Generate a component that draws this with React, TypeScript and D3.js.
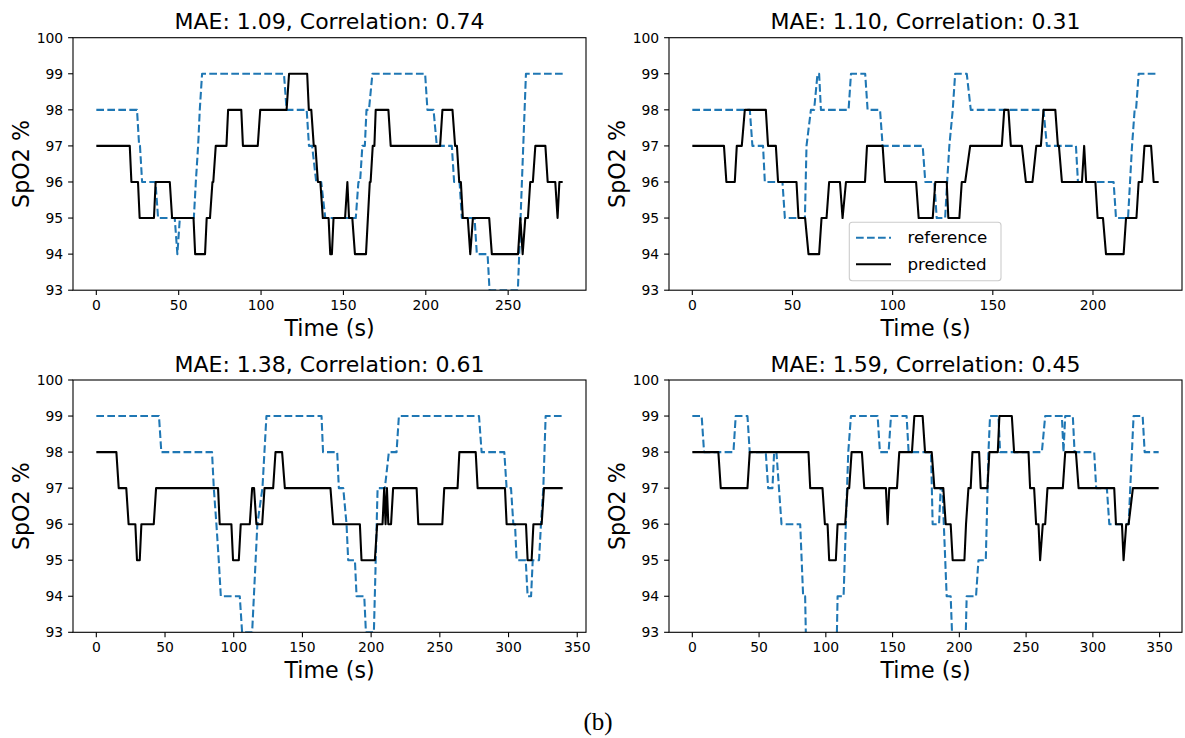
import React from 'react';
import * as d3 from 'd3';

type Pt = [number, number];

// ---- data: [time (s), SpO2 %] vertices ----
const p1Ref: Pt[] = [[0,98],[24.7,98],[26,97],[26.5,97],[27.8,96],[35.9,96],[37.5,95],[47.6,95],[49.2,94],[50.7,95],[59.2,95],[60.4,96],[61.8,97],[62.8,98],[64.2,99],[113.9,99],[115.5,98],[127.7,98],[129.1,97],[131,97],[133.5,96],[136.5,96],[139,95],[157.5,95],[159.1,96],[160.1,96],[161.5,97],[163,97],[164,98],[165.5,98],[167.6,99],[199.6,99],[201,98],[204.7,98],[206.7,97],[215.8,97],[217.2,96],[220.5,96],[221.9,95],[229.6,95],[231,94],[237.5,94],[238.7,93],[255.9,93],[260.8,99],[283.1,99]];
const p1Pred: Pt[] = [[0,97],[20.3,97],[21.3,96],[25.3,96],[26.3,95],[35,95],[36,96],[44.6,96],[46,95],[59,95],[60,94],[66,94],[67,95],[69,95],[70.5,96],[71,96],[72.5,97],[79,97],[80,98],[88,98],[89,97],[98,97],[99.5,98],[115.5,98],[117,99],[128,99],[129,98],[130.5,98],[132,97],[133,97],[134.5,96],[136,96],[137.5,95],[141,95],[142,94],[143,94],[144,95],[151,95],[152.4,96],[153.4,95],[155.4,95],[157,94],[163.7,94],[166,96],[166.5,96],[167.8,97],[168.8,97],[169.6,98],[177.3,98],[178.7,97],[208.7,97],[210.1,98],[216.2,98],[217.8,97],[218.9,97],[220.3,96],[221.3,96],[222.5,95],[225.5,95],[227,94],[228.6,95],[238.5,95],[240.1,94],[256,94],[257.4,95],[258.8,94],[260.4,95],[262,95],[263.4,96],[265,96],[266.5,97],[272.6,97],[274,96],[278.6,96],[280,95],[281.1,96],[283.1,96]];

const p2Ref: Pt[] = [[0,98],[28.7,98],[30,97],[35.3,97],[36.2,96],[45,96],[46.2,95],[56.2,95],[57,97],[59.2,98],[60.8,98],[62.5,99],[63.3,99],[64.2,98],[78,98],[79.2,99],[86.3,99],[87.5,98],[93.7,98],[95,97],[115,97],[116.3,96],[120.8,96],[122,95],[126.2,95],[127.2,96],[128.3,97],[130,98],[131.2,99],[137,99],[139,98],[175.3,98],[177,97],[191.5,97],[192.5,96],[210.3,96],[211.5,95],[217.5,95],[218.5,96],[219.5,97],[220.8,98],[221.5,98],[222.8,99],[232.8,99]];
const p2Pred: Pt[] = [[0,97],[15.8,97],[17,96],[21.2,96],[22.2,97],[24.7,97],[26.2,98],[36.7,98],[37.8,97],[41.7,97],[42.8,96],[52,96],[53,95],[56.3,95],[58,94],[63.3,94],[64.5,95],[67,95],[68.3,96],[73.7,96],[75,95],[76.7,96],[86.2,96],[87.2,97],[95,97],[96.2,96],[111.7,96],[113,95],[120,95],[121.3,96],[127,96],[127.8,95],[133.3,95],[134.5,96],[136.2,96],[138.7,97],[154.5,97],[155.7,98],[157.8,98],[159,97],[164.5,97],[166.5,96],[169.8,96],[171.7,97],[174,97],[175.3,98],[181.2,98],[182.5,97],[183,97],[184.5,96],[194.5,96],[195.6,97],[196.6,96],[201.2,96],[202.3,95],[205,95],[206.5,94],[215.3,94],[216.5,95],[221.7,95],[222.8,96],[224.5,96],[225.7,97],[229,97],[230.3,96],[232.8,96]];

const p3Ref: Pt[] = [[0,99],[45.6,99],[47.3,98],[84.2,98],[85.5,97],[87.4,96],[89.1,95],[90.6,94],[104.4,94],[106.1,93],[113.4,93],[117.2,96],[120.9,97],[123.8,99],[163.9,99],[165,98],[175.3,98],[176.5,97],[179.7,97],[182.1,96],[183.3,95],[188.2,95],[189.4,94],[195,94],[196.2,93],[202,93],[204.7,97],[210,97],[212.9,98],[218.5,98],[220.2,99],[278.5,99],[280.4,98],[296.9,98],[298.6,97],[301.8,97],[303.5,96],[304.7,96],[305.9,95],[312.5,95],[313.9,94],[316.4,94],[317.6,95],[322.2,95],[323.6,96],[325.3,97],[327,99],[339.4,99]];
const p3Pred: Pt[] = [[0,98],[14.6,98],[16.3,97],[21.8,97],[23.5,96],[28.4,96],[29.6,95],[31.6,95],[32.8,96],[41.8,96],[43.5,97],[88.6,97],[89.8,96],[98.3,96],[99.5,95],[103.7,95],[105.1,96],[111.7,96],[113.4,97],[114.8,97],[116.5,96],[120.7,96],[122.4,97],[128.7,97],[130.4,98],[135.2,98],[137.2,97],[170.4,97],[172.4,96],[191.8,96],[193,95],[202.7,95],[204.4,96],[208.3,96],[209.5,97],[210.5,96],[211.5,97],[212.5,96],[214.5,96],[216,97],[233.1,97],[234.3,96],[251.8,96],[253.2,97],[262.9,97],[264.2,98],[276.1,98],[277.5,97],[297.4,97],[298.6,96],[312.7,96],[313.9,95],[316.8,95],[318.1,96],[324.1,96],[325.8,97],[339.4,97]];

const p4Ref: Pt[] = [[0,99],[7,99],[8.8,98],[30.8,98],[32.5,99],[41.3,99],[43,98],[55,98],[56.8,97],[60,97],[61.3,98],[63,98],[66.8,96],[80.8,96],[83,94],[84.5,94],[86,91],[107.3,91],[108.8,94],[113.3,94],[115,96],[116.8,98],[118.8,99],[138.8,99],[140.5,98],[147,98],[148.8,99],[160.5,99],[162,98],[178.8,98],[180,96],[184.8,96],[186,97],[187.3,97],[190.5,94],[193.5,94],[196.5,91],[203.5,91],[205.5,94],[212.5,94],[214.3,95],[219.8,95],[221.8,98],[223,99],[229.3,99],[230.5,98],[261.8,98],[264.3,99],[276.8,99],[278,98],[279.3,99],[285,99],[286.3,98],[301,98],[302.5,97],[310.5,97],[312.3,96],[326.8,96],[328,97],[330.5,99],[337.3,99],[338.8,98],[349.3,98]];
const p4Pred: Pt[] = [[0,98],[19.5,98],[21.3,97],[41.3,97],[43,98],[87,98],[88.3,97],[97.5,97],[99.3,96],[101.3,96],[102.5,95],[107.5,95],[108.8,96],[114.5,96],[116.3,97],[117.5,97],[119.3,98],[127,98],[128.8,97],[145,97],[146.3,96],[147.5,97],[153.3,97],[155,98],[164.5,98],[166.3,99],[172.5,99],[174.3,98],[179.3,98],[181.3,97],[188,97],[189.8,96],[193.5,96],[195,95],[203.8,95],[205,96],[206.8,97],[208.5,97],[209.8,98],[214.8,98],[216,97],[221,97],[222.5,98],[228.8,98],[230,99],[239.3,99],[241,98],[251.8,98],[253,97],[256,97],[257.5,96],[259.3,96],[260.5,95],[262.5,96],[264.3,96],[266,97],[277.5,97],[279.3,98],[287.3,98],[289.3,97],[316,97],[317.3,96],[321.8,96],[323,95],[325,96],[326.8,96],[330,97],[349.3,97]];

const titles = [
  'MAE: 1.09, Correlation: 0.74',
  'MAE: 1.10, Correlation: 0.31',
  'MAE: 1.38, Correlation: 0.61',
  'MAE: 1.59, Correlation: 0.45',
];
const yTicks = [93, 94, 95, 96, 97, 98, 99, 100];
const xTicksTopLeft = [0, 50, 100, 150, 200, 250];
const xTicksTopRight = [0, 50, 100, 150, 200];
const xTicksBottom = [0, 50, 100, 150, 200, 250, 300, 350];
const legendLabels = ['reference', 'predicted'];
const xLabel = 'Time (s)';
const yLabel = 'SpO2 %';

// ---- layout ----
const W = 1185, H = 738;
const FONT = "'DejaVu Sans', sans-serif";
const BLUE = '#1f77b4';
const boxes = [
  { l: 73, r: 586, t: 37.7, b: 290.2 },
  { l: 669, r: 1182, t: 37.7, b: 290.2 },
  { l: 73, r: 586, t: 380, b: 632.3 },
  { l: 669, r: 1182, t: 380, b: 632.3 },
];
const panels = [
  { ref: p1Ref, pred: p1Pred, xt: xTicksTopLeft },
  { ref: p2Ref, pred: p2Pred, xt: xTicksTopRight },
  { ref: p3Ref, pred: p3Pred, xt: xTicksBottom },
  { ref: p4Ref, pred: p4Pred, xt: xTicksBottom },
];

function Panel({ i }: { i: number }) {
  const bx = boxes[i];
  const p = panels[i];
  const all = p.ref.concat(p.pred);
  const [mn, mx] = d3.extent(all, (d) => d[0]) as [number, number];
  const pad = (mx - mn) * 0.05;
  const x = d3.scaleLinear().domain([mn - pad, mx + pad]).range([bx.l, bx.r]);
  const y = d3.scaleLinear().domain([93, 100]).range([bx.b, bx.t]);
  const line = d3.line<Pt>().x((d) => x(d[0])).y((d) => y(d[1]));
  const clipId = `clip${i}`;
  const tick = 4.9;
  const cx = (bx.l + bx.r) / 2;
  const cy = (bx.t + bx.b) / 2;
  return (
    <g>
      <defs>
        <clipPath id={clipId}>
          <rect x={bx.l} y={bx.t} width={bx.r - bx.l} height={bx.b - bx.t} />
        </clipPath>
      </defs>
      <g clipPath={`url(#${clipId})`}>
        <path d={line(p.ref) || ''} fill="none" stroke={BLUE} strokeWidth={2.08} strokeDasharray="7.7,3.3" strokeLinejoin="round" />
        <path d={line(p.pred) || ''} fill="none" stroke="#000" strokeWidth={2.08} strokeLinejoin="round" />
      </g>
      <rect x={bx.l} y={bx.t} width={bx.r - bx.l} height={bx.b - bx.t} fill="none" stroke="#000" strokeWidth={1.1} />
      {p.xt.map((v) => (
        <g key={'x' + v}>
          <line x1={x(v)} x2={x(v)} y1={bx.b} y2={bx.b + tick} stroke="#000" strokeWidth={1.1} />
          <text x={x(v)} y={bx.b + 19.5} textAnchor="middle" fontSize={13.9} fontFamily={FONT}>{v}</text>
        </g>
      ))}
      {yTicks.map((v) => (
        <g key={'y' + v}>
          <line x1={bx.l - tick} x2={bx.l} y1={y(v)} y2={y(v)} stroke="#000" strokeWidth={1.1} />
          <text x={bx.l - 9.8} y={y(v) + 5} textAnchor="end" fontSize={13.9} fontFamily={FONT}>{v}</text>
        </g>
      ))}
      <text x={cx} y={bx.t - 8.5} textAnchor="middle" fontSize={22} fontFamily={FONT}>{titles[i]}</text>
      <text x={cx} y={bx.b + 46} textAnchor="middle" fontSize={22.2} fontFamily={FONT}>{xLabel}</text>
      <text transform={`translate(${bx.l - 44},${cy}) rotate(-90)`} textAnchor="middle" fontSize={22.2} fontFamily={FONT}>{yLabel}</text>
    </g>
  );
}

function Legend() {
  const lx = 849.3, ly = 222.3, lw = 151.7, lh = 58.4;
  const rows = [237.7, 264.3];
  return (
    <g>
      <rect x={lx} y={ly} width={lw} height={lh} rx={3} fill="#fff" fillOpacity={0.8} stroke="#cccccc" strokeWidth={1.1} />
      {legendLabels.map((lab, k) => (
        <g key={lab}>
          <line x1={856} x2={891} y1={rows[k]} y2={rows[k]} stroke={k === 0 ? BLUE : '#000'} strokeWidth={2.08} strokeDasharray={k === 0 ? '7.7,3.3' : undefined} />
          <text x={907.5} y={rows[k] + 5.5} fontSize={16.7} fontFamily={FONT}>{lab}</text>
        </g>
      ))}
    </g>
  );
}

export default function App() {
  return (
    <svg width={W} height={H} style={{ position: 'absolute', left: 0, top: 0, background: '#fff' }}>
      <rect x={0} y={0} width={W} height={H} fill="#fff" />
      {[0, 1, 2, 3].map((i) => <Panel key={i} i={i} />)}
      <Legend />
      <text x={598} y={730} textAnchor="middle" fontSize={25} fontFamily="'Liberation Serif', 'DejaVu Serif', serif">(b)</text>
    </svg>
  );
}
